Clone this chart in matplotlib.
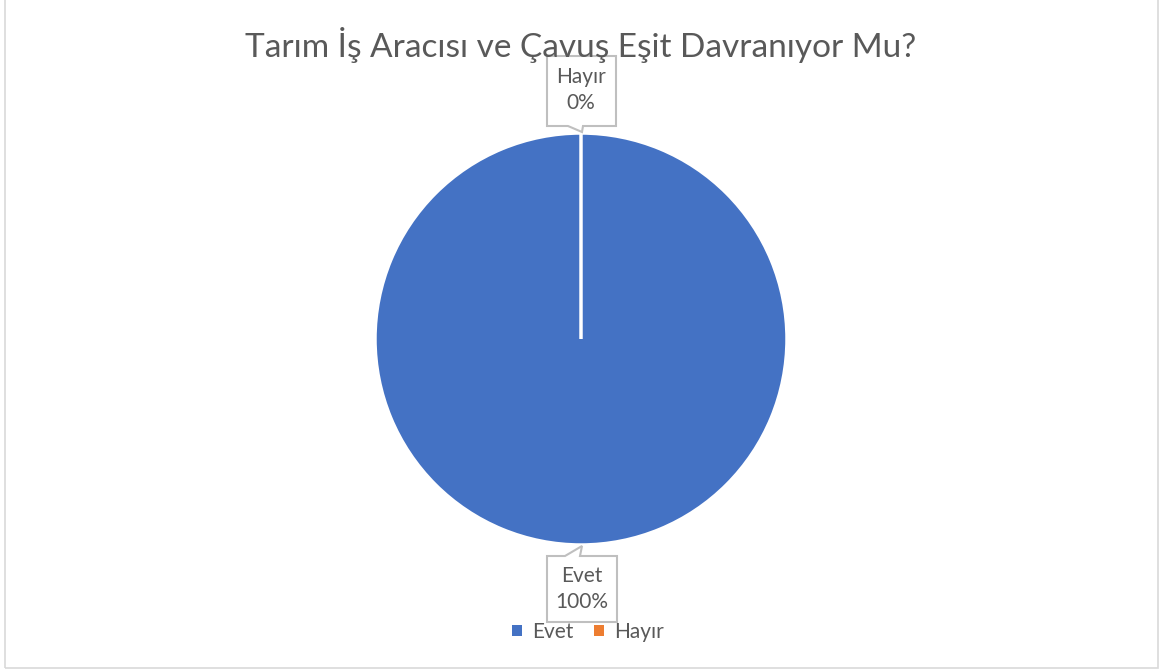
import matplotlib.pyplot as plt
from matplotlib.patches import Polygon, Rectangle

plt.rcParams["font.family"] = ["Lato", "DejaVu Sans"]

TITLE = "Tarım İş Aracısı ve Çavuş Eşit Davranıyor Mu?"
labels = ["Evet", "Hayır"]
values = [100, 0]
colors = ["#4472C4", "#ED7D31"]
TEXT = "#595959"
W, H = 1163, 672

fig = plt.figure(figsize=(W / 100, H / 100), dpi=100)
ax = fig.add_axes([0, 0, 1, 1])


def Y(y):  # pixel row (top-down) -> axis y
    return H - y


cx, cy, r = 581, Y(339), 206
ax.pie(values, colors=colors, startangle=90, counterclock=False, center=(cx, cy),
       radius=r, wedgeprops=dict(edgecolor="white", linewidth=2.5), frame=True)
ax.set_xlim(0, W)
ax.set_ylim(0, H)
ax.axis("off")

# outer chart border
ax.add_patch(Rectangle((5, Y(668)), 1153, 700, fill=False, ec="#D9D9D9", lw=1.2))

ax.text(581, Y(45), TITLE, ha="center", va="center", fontsize=24, color=TEXT)

total = sum(values)
pcts = {lab: v / total * 100 for lab, v in zip(labels, values)}

# Hayır callout (above, pointer down to top of pie)
hay = [(547, 56), (616, 56), (616, 126), (583, 126), (582, 132), (568, 126), (547, 126)]
ax.add_patch(Polygon([(x, Y(y)) for x, y in hay], closed=True, fc="white", ec="#BFBFBF", lw=1.5))
ax.text(581, Y(90), f"Hayır\n{pcts['Hayır']:.0f}%", ha="center", va="center",
        fontsize=15, color=TEXT, linespacing=1.35)

# Evet callout (below, pointer up to bottom of pie)
evt = [(547, 556), (565, 556), (582, 546), (580, 556), (617, 556), (617, 622), (547, 622)]
ax.add_patch(Polygon([(x, Y(y)) for x, y in evt], closed=True, fc="white", ec="#BFBFBF", lw=1.5))
ax.text(582, Y(589), f"Evet\n{pcts['Evet']:.0f}%", ha="center", va="center",
        fontsize=15, color=TEXT, linespacing=1.35)

handles = [Rectangle((0, 0), 1, 1, fc=c) for c in colors]
leg = ax.legend(handles, labels, loc="center", bbox_to_anchor=(588 / W, 1 - 632 / H),
                ncol=2, frameon=False, fontsize=15, handlelength=0.45, handleheight=0.45,
                handletextpad=0.5, columnspacing=1.0, labelcolor=TEXT)

fig.savefig("out.png", facecolor="white")
